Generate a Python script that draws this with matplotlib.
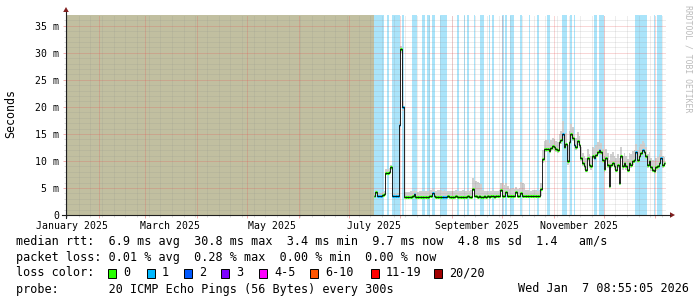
import datetime as dt
import numpy as np
import matplotlib
matplotlib.use("Agg")
import matplotlib.pyplot as plt
import matplotlib.dates as mdates
import matplotlib.transforms as mtrans
from matplotlib.patches import Polygon, Rectangle
from matplotlib.lines import Line2D

# ---------------- data ----------------
x_start = "2025-01-12 08:55:05"
x_end = "2026-01-07 08:55:05"
data_start = "2025-07-16 00:00:00"   # one value per day from here on

median_ms = [
    3.5, 4.2, 3.6, 3.6, 3.6, 3.7, 3.8, 7.8, 7.8, 7.9,
    8.8, 3.5, 3.5, 3.5, 3.5, 16.7, 30.8, 20.0, 3.4, 3.4,
    3.4, 3.4, 3.4, 3.5, 3.8, 3.4, 3.4, 3.4, 3.4, 3.4,
    3.4, 3.4, 3.4, 3.5, 3.6, 4.0, 3.5, 3.4, 3.4, 3.4,
    3.4, 3.4, 3.4, 3.4, 3.5, 3.4, 3.4, 3.4, 3.4, 3.5,
    3.4, 3.4, 3.4, 3.4, 3.4, 3.4, 3.5, 3.4, 3.4, 4.8,
    3.6, 3.5, 3.4, 3.5, 3.4, 3.4, 3.5, 3.4, 3.5, 3.4,
    3.5, 3.5, 3.4, 3.5, 3.5, 3.5, 4.7, 3.6, 3.5, 4.3,
    3.6, 3.5, 3.5, 3.5, 3.5, 4.3, 3.6, 3.5, 4.0, 3.6,
    3.5, 3.5, 3.5, 3.5, 3.5, 3.5, 3.5, 3.5, 3.5, 3.5,
    4.9, 10.3, 12.2, 12.3, 12.3, 11.9, 12.4, 12.8, 12.5, 12.2,
    12.0, 13.5, 13.9, 15.0, 12.6, 13.2, 9.9, 13.5, 15.0, 14.3,
    13.0, 12.6, 13.7, 13.0, 10.5, 9.6, 9.0, 8.4, 10.5, 9.3,
    9.0, 10.9, 10.5, 11.1, 11.7, 12.0, 11.7, 10.2, 8.6, 10.5,
    9.3, 5.3, 9.3, 9.6, 9.0, 8.4, 9.3, 5.9, 10.9, 9.0,
    9.6, 9.0, 8.4, 9.6, 9.3, 9.9, 10.2, 11.7, 10.2, 10.9,
    11.5, 12.0, 11.7, 10.9, 9.3, 9.9, 8.8, 8.4, 8.1, 8.8,
    9.0, 9.6, 10.5, 9.3, 9.7]

smoke_lo_ms = [
    3.4, 3.9, 3.4, 3.4, 3.4, 3.5, 3.6, 7.4, 7.5, 7.6,
    8.4, 3.4, 3.4, 3.4, 3.4, 15.8, 30.0, 19.2, 3.3, 3.3,
    3.3, 3.3, 3.3, 3.4, 3.6, 3.3, 3.3, 3.3, 3.3, 3.3,
    3.3, 3.3, 3.3, 3.4, 3.4, 3.8, 3.4, 3.3, 3.3, 3.3,
    3.3, 3.3, 3.3, 3.3, 3.4, 3.3, 3.3, 3.3, 3.3, 3.4,
    3.3, 3.3, 3.3, 3.3, 3.3, 3.3, 3.4, 3.3, 3.3, 4.5,
    3.4, 3.4, 3.3, 3.4, 3.3, 3.3, 3.4, 3.3, 3.4, 3.3,
    3.4, 3.4, 3.3, 3.4, 3.4, 3.4, 4.4, 3.4, 3.4, 4.0,
    3.4, 3.4, 3.4, 3.4, 3.4, 4.0, 3.4, 3.4, 3.8, 3.4,
    3.4, 3.4, 3.4, 3.4, 3.4, 3.4, 3.4, 3.4, 3.4, 3.4,
    3.5, 9.6, 11.6, 11.7, 11.7, 11.3, 11.8, 12.1, 11.9, 11.6,
    11.4, 12.8, 13.2, 14.2, 12.0, 12.5, 9.3, 12.8, 14.2, 13.6,
    12.3, 12.0, 13.0, 12.4, 9.9, 9.0, 8.4, 7.9, 9.9, 8.7,
    8.4, 10.3, 9.9, 10.5, 11.1, 11.4, 11.1, 9.6, 8.0, 9.9,
    8.7, 5.0, 8.7, 9.0, 8.4, 7.9, 8.7, 5.6, 10.3, 8.4,
    9.0, 8.4, 7.9, 9.0, 8.7, 9.3, 9.6, 11.1, 9.6, 10.3,
    10.9, 11.4, 11.1, 10.3, 8.7, 9.3, 8.2, 7.9, 7.6, 8.2,
    8.4, 9.0, 9.9, 8.7, 9.1]

smoke_hi_ms = [
    4.0, 4.7, 4.1, 4.0, 4.1, 4.2, 4.4, 8.5, 8.6, 8.7,
    9.3, 3.9, 4.0, 3.9, 4.0, 17.4, 31.3, 21.0, 4.2, 4.3,
    4.3, 4.2, 4.4, 4.4, 4.6, 4.4, 4.3, 4.4, 4.5, 4.4,
    4.4, 4.5, 4.4, 4.6, 4.6, 4.9, 4.6, 4.5, 4.6, 4.7,
    4.6, 4.5, 4.6, 4.5, 4.5, 4.4, 4.5, 4.4, 4.5, 4.6,
    4.4, 4.5, 4.4, 4.6, 4.4, 4.5, 4.6, 4.5, 4.7, 6.8,
    6.5, 6.2, 6.1, 6.0, 5.7, 4.6, 4.5, 4.4, 4.5, 4.4,
    4.5, 4.6, 4.4, 4.5, 4.4, 4.6, 5.9, 6.0, 5.6, 6.0,
    5.4, 4.9, 4.8, 5.0, 4.9, 5.1, 4.9, 5.0, 6.1, 6.0,
    5.8, 4.7, 4.6, 4.6, 4.5, 4.7, 4.6, 4.6, 4.5, 4.6,
    6.0, 12.0, 13.6, 13.8, 13.9, 13.4, 13.8, 14.3, 14.0, 13.6,
    13.5, 15.0, 15.6, 17.3, 14.5, 15.2, 13.0, 15.5, 16.8, 16.2,
    14.8, 14.2, 15.3, 14.6, 12.5, 11.5, 11.0, 10.5, 12.2, 11.3,
    11.0, 12.6, 12.4, 13.0, 13.5, 13.8, 13.4, 12.2, 11.0, 12.3,
    11.4, 10.2, 11.2, 11.6, 11.0, 10.6, 11.2, 10.5, 12.6, 11.0,
    11.5, 11.0, 10.4, 11.5, 11.2, 11.8, 12.0, 13.2, 12.0, 12.6,
    13.1, 13.6, 13.4, 12.6, 11.2, 11.6, 10.6, 10.2, 9.9, 10.5,
    10.7, 11.2, 12.0, 11.0, 10.8]

# days (index from data_start) with packet loss, and the loss-colour class of the median
loss_days = [0, 1, 2, 3, 4, 5, 8, 11, 12, 13, 14, 15, 17, 23, 24, 25, 29, 30, 32, 33,
             35, 36, 40, 41, 42, 43, 50, 54, 56, 60, 64, 65, 69, 71, 77, 79, 82, 83, 88, 93,
             98, 104, 105, 113, 114, 115, 118, 120, 132, 133, 135, 136, 137,
             157, 158, 159, 160, 161, 162, 163, 168, 170, 171, 172]
loss_class = [0, 0, 1, 1, 1, 0, 0, 1, 1, 1, 1, 1, 1, 0, 1, 0, 0, 0, 0, 0,
              1, 0, 0, 1, 1, 1, 0, 0, 0, 0, 0, 0, 0, 0, 0, 0, 0, 0, 0, 0,
              0, 0, 0, 1, 0, 0, 0, 1, 1, 0, 1, 0, 0,
              1, 0, 0, 0, 1, 0, 0, 0, 0, 0, 1]

y_ticks = [0, 5, 10, 15, 20, 25, 30, 35]
y_tick_labels = ["0", "5 m", "10 m", "15 m", "20 m", "25 m", "30 m", "35 m"]
y_max = 37.0

month_labels = ["January 2025", "March 2025", "May 2025", "July 2025",
                "September 2025", "November 2025"]
month_label_dates = ["2025-01-16", "2025-03-16", "2025-05-16", "2025-07-16",
                     "2025-09-16", "2025-11-16"]

loss_color_names = ["0", "1", "2", "3", "4-5", "6-10", "11-19", "20/20"]
loss_color_values = ["#26ff00", "#00b8ff", "#0059ff", "#7e00ff",
                     "#ff00ff", "#ff5500", "#ff0000", "#a10000"]

rtt_stats = ["6.9 ms avg", "30.8 ms max", "3.4 ms min", "9.7 ms now", "4.8 ms sd", "1.4"]
rtt_unit = "am/s"
loss_stats = ["0.01 % avg", "0.28 % max", "0.00 % min", "0.00 % now"]
probe_text = "20 ICMP Echo Pings (56 Bytes) every 300s"
stamp_text = "Wed Jan  7 08:55:05 2026"

# ---------------- style ----------------
MONO = "DejaVu Sans Mono"
KHAKI = "#c1bfa0"
BAND = "#aae4fa"
SMOKE = "#cfcfcf"
GRID = (0.55, 0.55, 0.55, 0.3)
MGRID = (0.9, 0.3, 0.3, 0.45)
ARROW = "#801f1f"
AXIS = "#1f1f1f"

W, H = 697, 297
fig = plt.figure(figsize=(W / 100, H / 100), dpi=100, facecolor="white")
PL, PR, PT, PB = 66, 666, 15, 215
ax = fig.add_axes([PL / W, 1 - PB / H, (PR - PL) / W, (PB - PT) / H])
ax.set_facecolor("white")
for s in ax.spines.values():
    s.set_visible(False)


def fx(px):
    return px / W


def fy(py):
    return 1 - py / H


t0 = mdates.date2num(dt.datetime.fromisoformat(x_start))
t1 = mdates.date2num(dt.datetime.fromisoformat(x_end))
d0 = mdates.date2num(dt.datetime.fromisoformat(data_start))
ax.set_xlim(t0, t1)
ax.set_ylim(0, y_max)

n = len(median_ms)
edges = d0 + np.arange(n + 1)

# unknown (no data) area
ax.axvspan(t0, d0, color=KHAKI, lw=0, zorder=0.5)

# loss background bands
for d in loss_days:
    ax.axvspan(edges[d], edges[d + 1], color=BAND, lw=0, zorder=1)

# smoke
ax.stairs(smoke_hi_ms, edges, baseline=smoke_lo_ms, fill=True, color=SMOKE, lw=0, zorder=2)

# grid (dotted)
dots = (0, (1, 1))
for v in np.arange(1, y_max, 1):
    if v % 5:
        ax.axhline(v, color=GRID, lw=0.72, ls=dots, zorder=3)
for v in y_ticks[1:]:
    ax.axhline(v, color=MGRID, lw=0.72, ls=dots, zorder=3.1)

month_loc = mdates.MonthLocator()
week_loc = mdates.WeekdayLocator(byweekday=mdates.MO)
month_ticks = [m for m in month_loc.tick_values(mdates.num2date(t0), mdates.num2date(t1)) if t0 < m < t1]
week_ticks = [w for w in week_loc.tick_values(mdates.num2date(t0), mdates.num2date(t1)) if t0 < w < t1]
for w in week_ticks:
    ax.axvline(w, color=GRID, lw=0.72, ls=dots, zorder=3)
for m in month_ticks:
    ax.axvline(m, color=MGRID, lw=0.72, ls=dots, zorder=3.1)

# median, coloured by loss, with black outline
colors = [loss_color_values[0]] * n
for d, c in zip(loss_days, loss_class):
    colors[d] = loss_color_values[c]
ax.hlines(median_ms, edges[:-1], edges[1:], colors=colors, lw=2.2, zorder=4)
ax.stairs(median_ms, edges, baseline=None, color="black", lw=0.6, zorder=5)

# ticks
ax.set_yticks(y_ticks)
ax.set_yticklabels(y_tick_labels, family=MONO, fontsize=7.1)
ax.set_yticks(np.arange(0, y_max, 1), minor=True)
ax.tick_params(axis="y", which="major", length=2.2, width=0.72, color=MGRID, pad=2.6)
ax.tick_params(axis="y", which="minor", length=1.5, width=0.72, color=GRID)
ax.set_xticks(month_ticks)
ax.set_xticks(week_ticks, minor=True)
ax.tick_params(axis="x", which="major", length=2.2, width=0.72, color=MGRID, labelbottom=False)
ax.tick_params(axis="x", which="minor", length=1.5, width=0.72, color=GRID, labelbottom=False)

blend = mtrans.blended_transform_factory(ax.transData, ax.transAxes)
for lab, ds in zip(month_labels, month_label_dates):
    ax.text(mdates.date2num(dt.datetime.fromisoformat(ds)), -0.056, lab, transform=blend,
            ha="center", va="center", family=MONO, fontsize=7.1, clip_on=False)

# axis lines + arrows
fig.add_artist(Line2D([fx(PL), fx(PL)], [fy(PB + 3), fy(PT - 3)], color=AXIS, lw=0.8))
fig.add_artist(Line2D([fx(PL - 4), fx(PR + 4)], [fy(PB), fy(PB)], color=AXIS, lw=0.8))
fig.add_artist(Polygon([(fx(PL), fy(PT - 8)), (fx(PL - 2.8), fy(PT - 3)), (fx(PL + 2.8), fy(PT - 3))],
                       closed=True, color=ARROW, lw=0, transform=fig.transFigure))
fig.add_artist(Polygon([(fx(PR + 9), fy(PB)), (fx(PR + 4), fy(PB - 2.8)), (fx(PR + 4), fy(PB + 2.8))],
                       closed=True, color=ARROW, lw=0, transform=fig.transFigure))

# y label and watermark
fig.text(fx(11), fy(114), "Seconds", rotation=90, ha="center", va="center", family=MONO, fontsize=8.4)
fig.text(fx(688), fy(5), "RRDTOOL / TOBI OETIKER", rotation=270, ha="center", va="top",
         family=MONO, fontsize=5.9, color="#bbbbbb")

# legend
LS = 8.5
row_y = [241, 257, 273, 289]
row1 = "median rtt:  " + "  ".join(rtt_stats) + "   " + rtt_unit
row2 = "packet loss: " + "  ".join(loss_stats)
fig.text(fx(16), fy(row_y[0]), row1, ha="left", va="center", family=MONO, fontsize=LS)
fig.text(fx(16), fy(row_y[1]), row2, ha="left", va="center", family=MONO, fontsize=LS)
fig.text(fx(16), fy(row_y[2]), "loss color:", ha="left", va="center", family=MONO, fontsize=LS)
box_x = [108, 147, 184, 221, 259, 310, 371, 434]
for name, col, bx in zip(loss_color_names, loss_color_values, box_x):
    fig.add_artist(Rectangle((fx(bx), fy(row_y[2] + 4.5)), 8 / W, 9 / H, facecolor=col,
                             edgecolor="black", lw=0.7, transform=fig.transFigure))
    fig.text(fx(bx + 15), fy(row_y[2]), name, ha="left", va="center", family=MONO, fontsize=LS)
fig.text(fx(16), fy(row_y[3]), "probe:       " + probe_text, ha="left", va="center",
         family=MONO, fontsize=LS)
fig.text(fx(689), fy(row_y[3]), stamp_text, ha="right", va="center", family=MONO, fontsize=LS)

fig.savefig("out.png", dpi=100, facecolor="white")
